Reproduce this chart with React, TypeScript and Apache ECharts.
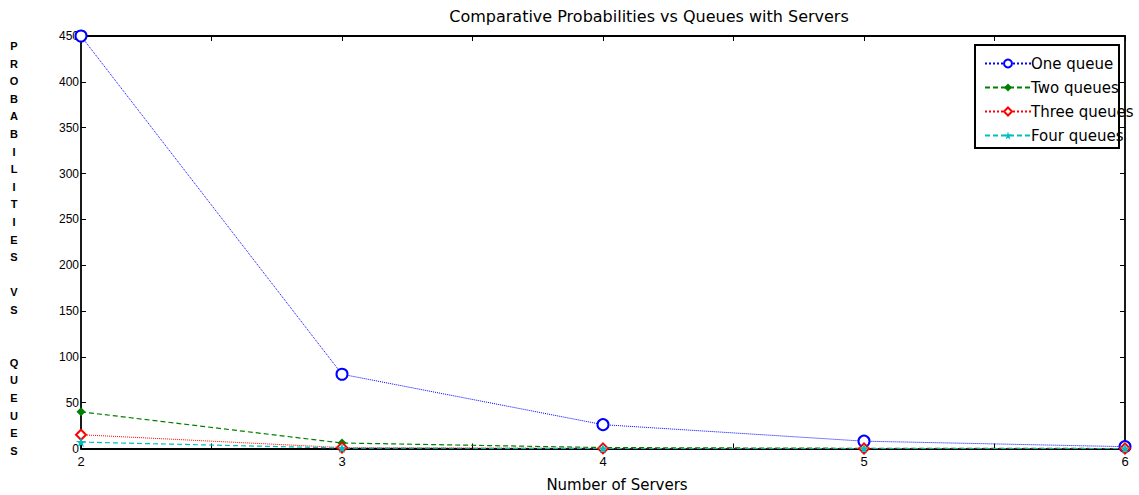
import React, { useEffect, useRef } from 'react';
import * as echarts from 'echarts';

// ---- data ----
const servers = [2, 3, 4, 5, 6];
const oneQueue = [450, 81, 26, 8, 2];
const twoQueues = [40, 6, 1, 0.2, 0];
const threeQueues = [15, 1, 0.1, 0, 0];
const fourQueues = [7, 0.5, 0, 0, 0];
const seriesNames = ['One queue', 'Two queues', 'Three queues', 'Four queues'];
const xRange = { min: 2, max: 6, step: 0.5 };
const yRange = { min: 0, max: 450, step: 50 };
const titleText = 'Comparative Probabilities vs Queues with Servers';
const xTitle = 'Number of Servers';
const yTitle = 'PROBABILITIES VS  QUEUES';

const FONT = '"Liberation Sans", Arial, sans-serif';
const WIDE = '"DejaVu Sans", sans-serif';
const STAR = 'path://M50,0 L61,35 L98,35 L68,57 L79,91 L50,70 L21,91 L32,57 L2,35 L39,35 Z';

export default function App() {
  const ref = useRef<HTMLDivElement>(null);
  useEffect(() => {
    if (!ref.current) return;
    const chart = echarts.init(ref.current, null, { renderer: 'svg' });
    const toPairs = (vals: number[]) => servers.map((s, i) => [s, vals[i]]);
    const axisLine = { show: true, onZero: false, lineStyle: { color: '#000', width: 1.8 } };
    const tick = { show: true, inside: true, length: 5, lineStyle: { color: '#000', width: 1 } };
    const option: any = {
      animation: false,
      backgroundColor: '#fff',
      grid: { left: 81, right: 14, top: 36, bottom: 46.5, containLabel: false },
      xAxis: [
        {
          type: 'value', min: xRange.min, max: xRange.max, interval: xRange.step, position: 'bottom',
          axisLine, axisTick: tick, splitLine: { show: false },
          axisLabel: {
            color: '#000', fontSize: 13, fontFamily: FONT, margin: 6,
            formatter: (v: number) => (Number.isInteger(v) ? String(v) : ''),
          },
        },
        {
          type: 'value', min: xRange.min, max: xRange.max, interval: xRange.step, position: 'top',
          axisLine, axisTick: tick, splitLine: { show: false }, axisLabel: { show: false },
        },
      ],
      yAxis: [
        {
          type: 'value', min: yRange.min, max: yRange.max, interval: yRange.step, position: 'left',
          axisLine, axisTick: tick, splitLine: { show: false },
          axisLabel: { color: '#000', fontSize: 12, fontFamily: FONT, margin: 2 },
        },
        {
          type: 'value', min: yRange.min, max: yRange.max, interval: yRange.step, position: 'right',
          axisLine, axisTick: tick, splitLine: { show: false }, axisLabel: { show: false },
        },
      ],
      legend: {
        orient: 'vertical', left: 979, top: 51, itemWidth: 46, itemHeight: 10, itemGap: 9,
        textStyle: { color: '#000', fontSize: 15, lineHeight: 14, fontFamily: WIDE, padding: [0, 0, 0, -5] },
        data: seriesNames,
      },
      series: [
        {
          name: seriesNames[0], type: 'line', data: toPairs(oneQueue),
          lineStyle: { color: '#0000ff', width: 1, type: 'dotted' },
          itemStyle: { color: '#0000ff', borderWidth: 1.5 },
          symbol: 'emptyCircle', symbolSize: 11,
        },
        {
          name: seriesNames[1], type: 'line', data: toPairs(twoQueues),
          lineStyle: { color: '#008000', width: 1.2, type: [5, 3] },
          itemStyle: { color: '#008000' },
          symbol: 'diamond', symbolSize: 9,
        },
        {
          name: seriesNames[2], type: 'line', data: toPairs(threeQueues),
          lineStyle: { color: '#ff0000', width: 1, type: 'dotted' },
          itemStyle: { color: '#ff0000', borderWidth: 1.2 },
          symbol: 'emptyDiamond', symbolSize: 10,
        },
        {
          name: seriesNames[3], type: 'line', data: toPairs(fourQueues),
          lineStyle: { color: '#00bfbf', width: 1.2, type: [5, 3] },
          itemStyle: { color: '#00bfbf' },
          symbol: STAR, symbolSize: 10,
        },
      ],
      graphic: [
        {
          type: 'text', x: 649, y: 16,
          style: { text: titleText, fontSize: 16, fontFamily: WIDE, fill: '#000', align: 'center', verticalAlign: 'middle' },
        },
        {
          type: 'text', x: 617, y: 485,
          style: { text: xTitle, fontSize: 15, fontFamily: WIDE, fill: '#000', align: 'center', verticalAlign: 'middle' },
        },
        {
          type: 'text', x: 14, y: 37.2,
          style: {
            text: yTitle.split('').join('\n'), fontSize: 11, fontWeight: 'bold', fontFamily: FONT,
            fill: '#000', align: 'center', verticalAlign: 'top', lineHeight: 17.6,
          },
        },
        {
          type: 'rect', z: 100,
          shape: { x: 975, y: 45, width: 144, height: 103 },
          style: { fill: 'none', stroke: '#000', lineWidth: 2 },
        },
      ],
    };
    chart.setOption(option);
    return () => chart.dispose();
  }, []);
  return (
    <div
      ref={ref}
      style={{ position: 'fixed', left: 0, top: 0, width: 1139, height: 495, background: '#fff' }}
    />
  );
}
